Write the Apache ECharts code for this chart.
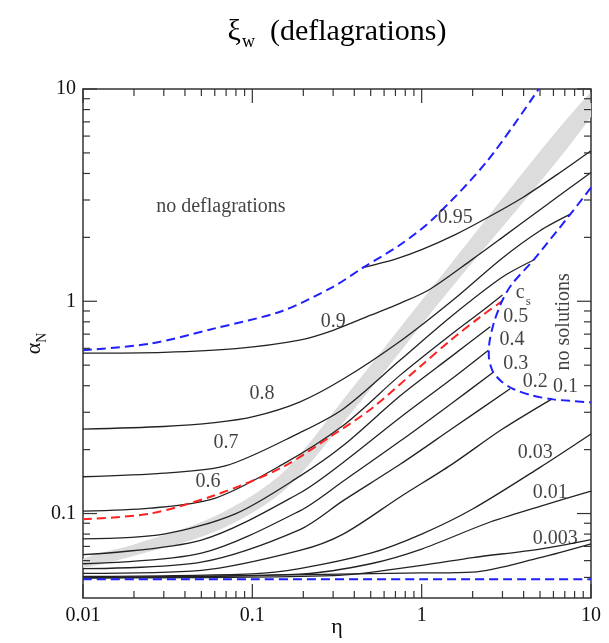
<!DOCTYPE html>
<html>
<head>
<meta charset="utf-8">
<script src="https://cdn.jsdelivr.net/npm/echarts@6/dist/echarts.min.js"></script>
<style>
  html, body { margin: 0; padding: 0; background: #fff; }
  #main { width: 609px; height: 643px; }
</style>
</head>
<body>
<div id="main"></div>
<script>
// axis ticks
var etaTicks = [0.01, 0.1, 1, 10];
var etaTickLabels = ['0.01', '0.1', '1', '10'];
var etaMinorTicks = [0.02, 0.03, 0.04, 0.05, 0.06, 0.07, 0.08, 0.09,
  0.2, 0.3, 0.4, 0.5, 0.6, 0.7, 0.8, 0.9, 2, 3, 4, 5, 6, 7, 8, 9];
var alphaTicks = [0.1, 1, 10];
var alphaTickLabels = ['0.1', '1', '10'];
var alphaMinorTicks = [0.05, 0.06, 0.07, 0.08, 0.09,
  0.2, 0.3, 0.4, 0.5, 0.6, 0.7, 0.8, 0.9, 2, 3, 4, 5, 6, 7, 8, 9];

// contours of xi_w, [eta, alpha_N]
var xi095 = [[0.45, 1.44], [0.7, 1.58], [1.0, 1.75], [1.58, 2.06], [2.5, 2.5], [4, 3.1], [6.3, 3.95], [10, 5.12]];
var xi09 = [[0.01, 0.57], [0.03, 0.575], [0.08, 0.598], [0.19, 0.656], [0.3, 0.73], [0.5, 0.86], [0.75, 0.98], [1.12, 1.14], [2, 1.58], [3, 2.0], [5, 2.7], [10, 4.04]];
var xi08 = [[0.01, 0.25], [0.03, 0.257], [0.06, 0.268], [0.1, 0.285], [0.19, 0.335], [0.344, 0.43], [0.75, 0.65], [1.5, 1.0], [3, 1.6], [5, 2.15], [7.6, 2.58]];
var xi07 = [[0.01, 0.149], [0.03, 0.155], [0.07, 0.168], [0.19, 0.24], [0.344, 0.311], [0.75, 0.53], [1.5, 0.85], [3, 1.3], [4.56, 1.56]];
var xi06 = [[0.01, 0.1026], [0.025, 0.106], [0.06, 0.118], [0.15, 0.17], [0.344, 0.26], [0.75, 0.45], [1.5, 0.7], [2.4, 0.93], [3.0, 1.07]];
var xiCs = [[0.01, 0.094], [0.025, 0.1], [0.06, 0.122], [0.15, 0.165], [0.3, 0.235], [0.5, 0.31], [1.0, 0.5], [1.5, 0.66], [2.2, 0.84], [2.98, 1.0]];
var xi05 = [[0.01, 0.076], [0.03, 0.08], [0.08, 0.1], [0.191, 0.15], [0.344, 0.209], [0.75, 0.36], [1.5, 0.55], [2.54, 0.758]];
var xi04 = [[0.01, 0.064], [0.05, 0.075], [0.191, 0.125], [0.344, 0.174], [0.75, 0.284], [1.5, 0.43], [2.48, 0.588]];
var xi03 = [[0.01, 0.058], [0.05, 0.065], [0.191, 0.103], [0.344, 0.142], [0.75, 0.22], [1.5, 0.33], [2.66, 0.464]];
var xi02 = [[0.01, 0.055], [0.05, 0.059], [0.191, 0.084], [0.344, 0.115], [0.75, 0.171], [1.5, 0.25], [3.33, 0.387]];
var xi01 = [[0.01, 0.0523], [0.05, 0.054], [0.191, 0.067], [0.344, 0.08], [0.75, 0.12], [1.5, 0.17], [3, 0.25], [5.89, 0.347]];
var xi003 = [[0.01, 0.0505], [0.1, 0.052], [0.19, 0.055], [0.5, 0.065], [1, 0.08], [2, 0.105], [5, 0.165], [10, 0.237]];
var xi001 = [[0.01, 0.05], [0.2, 0.052], [0.5, 0.058], [1, 0.068], [2.43, 0.09], [5, 0.108], [10, 0.1276]];
var xi0003 = [[0.01, 0.0498], [0.3, 0.051], [1, 0.057], [2, 0.062], [5, 0.068], [10, 0.0753]];
var xiLow = [[0.01, 0.0497], [1, 0.0525], [2, 0.053], [5, 0.062], [10, 0.072]];

// region boundaries (blue dashed)
var boundTop = [[0.01, 0.588], [0.025, 0.632], [0.06, 0.745], [0.15, 0.9], [0.3, 1.17], [0.45, 1.44], [0.75, 1.85], [1.17, 2.45], [2.43, 4.56], [4.91, 10]];
var boundRight = [[10, 3.43], [7.2, 2.45], [4.56, 1.56], [3.4, 1.2], [2.98, 1.0], [2.68, 0.8], [2.52, 0.65], [2.49, 0.56], [2.62, 0.47], [2.95, 0.42], [3.5, 0.385], [4.5, 0.36], [6, 0.345], [10, 0.334]];
var boundBottom = [[0.01, 0.049], [10, 0.049]];

// grey band, upper and lower edges
var bandUpper = [[0.01, 0.0612], [0.02, 0.0715], [0.06, 0.097], [0.15, 0.155], [0.34, 0.34], [1.29, 1.3], [10, 9.7]];
var bandLower = [[0.01, 0.0556], [0.02, 0.0632], [0.06, 0.082], [0.15, 0.126], [0.34, 0.264], [1.29, 1.0], [10, 7.4]];

// text labels [eta, alpha, text]
var contourLabels = [
  [1.58, 2.48, '0.95'], [0.3, 0.80, '0.9'], [0.114, 0.367, '0.8'], [0.0698, 0.215, '0.7'], [0.0547, 0.141, '0.6'],
  [3.98, 1.08, '{m|c}{s|s}'], [3.6, 0.843, '0.5'], [3.42, 0.656, '0.4'], [3.6, 0.51, '0.3'],
  [4.69, 0.419, '0.2'], [7.06, 0.397, '0.1'], [4.69, 0.193, '0.03'], [5.74, 0.125, '0.01'], [6.15, 0.0764, '0.003']
];
var regionLabels = [[0.0652, 2.79, 'no deflagrations']];
var sideLabels = [[6.9, 0.8, 'no solutions']];

var xMin = 0.01, xMax = 10, yMin = 0.04, yMax = 10;
var serif = 'Liberation Serif, Times New Roman, serif';

var myChart = echarts.init(document.getElementById('main'));

function lineSeries(data, color, width, dashed, z) {
  return {
    type: 'line',
    data: data,
    symbol: 'none',
    smooth: 0.3,
    z: z,
    silent: true,
    lineStyle: { color: color, width: width, type: dashed ? [9, 5] : 'solid' }
  };
}

function pickLabel(v, ticks, labels) {
  for (var i = 0; i < ticks.length; i++) {
    if (Math.abs(Math.log10(v) - Math.log10(ticks[i])) < 1e-6) return labels[i];
  }
  return '';
}

var tickStyle = { stroke: '#333', lineWidth: 1.2 };

function xTickItem(params, api) {
  var v = api.value(0), len = api.value(2);
  var b = api.coord([v, yMin]), t = api.coord([v, yMax]);
  return { type: 'group', children: [
    { type: 'line', shape: { x1: b[0], y1: b[1], x2: b[0], y2: b[1] - len }, style: tickStyle },
    { type: 'line', shape: { x1: t[0], y1: t[1], x2: t[0], y2: t[1] + len }, style: tickStyle }
  ] };
}
function yTickItem(params, api) {
  var v = api.value(1), len = api.value(2);
  var l = api.coord([xMin, v]), r = api.coord([xMax, v]);
  return { type: 'group', children: [
    { type: 'line', shape: { x1: l[0], y1: l[1], x2: l[0] + len, y2: l[1] }, style: tickStyle },
    { type: 'line', shape: { x1: r[0], y1: r[1], x2: r[0] - len, y2: r[1] }, style: tickStyle }
  ] };
}
// band drawn as one polygon: upper edge forward, lower edge back
function bandItem(params, api) {
  var pts = bandUpper.map(function (p) { return api.coord(p); });
  for (var i = bandLower.length - 1; i >= 0; i--) pts.push(api.coord(bandLower[i]));
  return { type: 'polygon', shape: { points: pts, smooth: 0.3 }, style: { fill: '#dcdcdc' } };
}

var xTickData = etaTicks.map(function (v) { return [v, yMin, 14]; })
  .concat(etaMinorTicks.map(function (v) { return [v, yMin, 7]; }));
var yTickData = alphaTicks.map(function (v) { return [xMin, v, 14]; })
  .concat(alphaMinorTicks.map(function (v) { return [xMin, v, 7]; }));

var black = '#222';
var contours = [xi095, xi09, xi08, xi07, xi06, xi05, xi04, xi03, xi02, xi01, xi003, xi001, xi0003, xiLow];

var series = [{
  type: 'custom', data: [bandUpper[0]], renderItem: bandItem, silent: true, z: 1, clip: true
}];
contours.forEach(function (c) { series.push(lineSeries(c, black, 1.3, false, 3)); });
series.push(lineSeries(xiCs, '#ff2020', 2, true, 4));
series.push(lineSeries(boundTop, '#1f1fff', 2, true, 4));
series.push(lineSeries(boundRight, '#1f1fff', 2, true, 4));
series.push(lineSeries(boundBottom, '#1f1fff', 2, true, 4));

series.push({
  type: 'scatter', data: contourLabels, symbolSize: 0, z: 6, silent: true,
  label: {
    show: true, position: 'inside', fontFamily: serif, fontSize: 20, color: '#111',
    formatter: function (p) { return p.data[2]; },
    rich: {
      m: { fontFamily: serif, fontSize: 20, color: '#111', lineHeight: 22, verticalAlign: 'top' },
      s: { fontFamily: serif, fontSize: 13, color: '#111', lineHeight: 13, verticalAlign: 'top', padding: [12, 0, 0, 1] }
    }
  }
});
series.push({
  type: 'scatter', data: regionLabels, symbolSize: 0, z: 6, silent: true,
  label: { show: true, position: 'inside', fontFamily: serif, fontSize: 20, color: '#111',
    formatter: function (p) { return p.data[2]; } }
});
series.push({
  type: 'scatter', data: sideLabels, symbolSize: 0, z: 6, silent: true,
  label: { show: true, position: 'inside', rotate: 90, fontFamily: serif, fontSize: 20, color: '#111',
    formatter: function (p) { return p.data[2]; } }
});
series.push({
  type: 'custom', data: xTickData, dimensions: ['x', 'y', 'len'], encode: { x: 0, y: 1 },
  renderItem: xTickItem, silent: true, z: 7
});
series.push({
  type: 'custom', data: yTickData, dimensions: ['x', 'y', 'len'], encode: { x: 0, y: 1 },
  renderItem: yTickItem, silent: true, z: 7
});

var option = {
  backgroundColor: '#fff',
  animation: false,
  grid: { left: 83, right: 18, top: 89, bottom: 45, show: true, borderColor: '#333', borderWidth: 1.5,
    containLabel: false, outerBoundsMode: 'none' },
  graphic: [{
    type: 'text', x: 337, y: 33,
    style: {
      text: '{g|ξ}{w|w}{g|  (deflagrations)}',
      align: 'center', verticalAlign: 'middle',
      rich: {
        g: { fontFamily: serif, fontSize: 30, color: '#111', lineHeight: 32, verticalAlign: 'top' },
        w: { fontFamily: serif, fontSize: 18, color: '#111', lineHeight: 18, verticalAlign: 'top', padding: [16, 0, 0, 1] }
      }
    }
  }],
  xAxis: {
    type: 'log', logBase: 10, min: xMin, max: xMax,
    name: 'η', nameLocation: 'middle', nameGap: 18, nameMoveOverlap: false,
    nameTextStyle: { fontFamily: serif, fontSize: 22, color: '#111', verticalAlign: 'top' },
    axisLine: { show: false }, axisTick: { show: false }, splitLine: { show: false },
    axisLabel: { fontFamily: serif, fontSize: 20, color: '#111', margin: 8,
      formatter: function (v) { return pickLabel(v, etaTicks, etaTickLabels); } }
  },
  yAxis: {
    type: 'log', logBase: 10, min: yMin, max: yMax,
    name: '{a|α}{n|N}', nameLocation: 'middle', nameRotate: 90, nameGap: 36, nameMoveOverlap: false,
    nameTextStyle: {
      rich: {
        a: { fontFamily: serif, fontSize: 22, color: '#111', lineHeight: 24, verticalAlign: 'top' },
        n: { fontFamily: serif, fontSize: 14, color: '#111', lineHeight: 14, verticalAlign: 'top', padding: [12, 0, 0, 0] }
      }
    },
    axisLine: { show: false }, axisTick: { show: false }, splitLine: { show: false },
    axisLabel: { fontFamily: serif, fontSize: 20, color: '#111', margin: 7,
      formatter: function (v) { return pickLabel(v, alphaTicks, alphaTickLabels); } }
  },
  series: series
};

myChart.setOption(option);
</script>
</body>
</html>
